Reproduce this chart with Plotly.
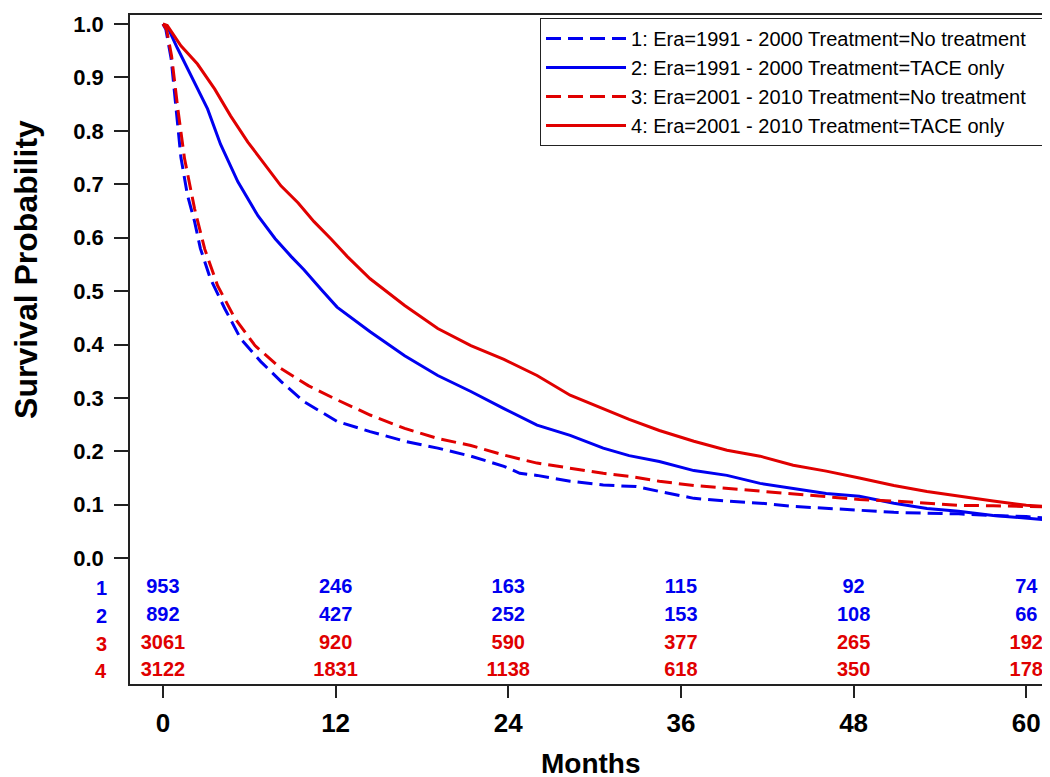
import plotly.graph_objects as go

# ---- data ----
names = [
    "1: Era=1991 - 2000 Treatment=No treatment",
    "2: Era=1991 - 2000 Treatment=TACE only",
    "3: Era=2001 - 2010 Treatment=No treatment",
    "4: Era=2001 - 2010 Treatment=TACE only",
]

t1 = [0, 0.2, 0.57, 0.9, 1.25, 1.7, 2.2, 2.6, 3.3, 4.3, 5.4, 6.8, 8.2, 9.8, 11.2, 12.1, 14.4, 16.8, 19.1, 21.4,
      23.7, 24.8, 26.0, 28.3, 30.6, 32.9, 34.5, 36.9, 39.2, 41.5, 43.8, 46.1, 48.4, 50.8, 53.1, 55.3, 57.7, 60.0, 61.8]
s1 = [1.0, 0.99, 0.935, 0.84, 0.75, 0.68, 0.63, 0.58, 0.523, 0.467, 0.411, 0.368, 0.331, 0.293, 0.271, 0.256, 0.237,
      0.219, 0.206, 0.191, 0.172, 0.159, 0.155, 0.144, 0.137, 0.134, 0.125, 0.112, 0.107, 0.103, 0.097, 0.093, 0.090,
      0.086, 0.084, 0.083, 0.080, 0.078, 0.074]

t2 = [0, 0.4, 1.0, 1.94, 3.1, 4.0, 5.2, 6.6, 7.8, 8.9, 9.8, 11.0, 12.1, 14.4, 16.8, 19.1, 21.4, 23.7, 26.0, 28.3,
      30.6, 32.4, 34.5, 36.9, 39.2, 41.5, 43.8, 46.1, 48.4, 50.8, 53.1, 55.3, 57.7, 60.0, 61.8]
s2 = [1.0, 0.99, 0.955, 0.903, 0.841, 0.775, 0.705, 0.641, 0.598, 0.565, 0.540, 0.503, 0.470, 0.424, 0.379, 0.342,
      0.312, 0.280, 0.249, 0.230, 0.206, 0.192, 0.181, 0.164, 0.155, 0.140, 0.131, 0.121, 0.116, 0.103, 0.093, 0.088,
      0.080, 0.075, 0.071]

t3 = [0, 0.25, 0.6, 1.04, 1.5, 2.2, 2.9, 3.8, 5.0, 6.4, 8.2, 10.1, 11.9, 14.4, 16.8, 19.1, 21.4, 23.7, 26.0, 28.3,
      30.6, 32.5, 34.5, 36.9, 39.2, 41.5, 43.8, 46.1, 48.4, 50.8, 53.1, 55.3, 57.7, 60.0, 61.8]
s3 = [1.0, 0.99, 0.94, 0.84, 0.748, 0.654, 0.579, 0.51, 0.449, 0.398, 0.355, 0.323, 0.299, 0.268, 0.243, 0.224,
      0.211, 0.193, 0.178, 0.168, 0.159, 0.153, 0.144, 0.136, 0.131, 0.125, 0.121, 0.116, 0.110, 0.107, 0.103, 0.099,
      0.098, 0.097, 0.096]

t4 = [0, 0.3, 1.25, 2.4, 3.6, 4.7, 5.9, 7.1, 8.2, 9.4, 10.5, 11.7, 12.8, 14.4, 16.8, 19.1, 21.4, 23.7, 26.0, 28.3,
      30.6, 32.4, 34.5, 36.9, 39.2, 41.5, 43.8, 46.1, 48.4, 50.8, 53.1, 55.3, 57.7, 60.0, 61.8]
s4 = [1.0, 0.997, 0.959, 0.925, 0.878, 0.828, 0.779, 0.735, 0.697, 0.665, 0.630, 0.597, 0.565, 0.523, 0.473, 0.430,
      0.398, 0.372, 0.342, 0.305, 0.280, 0.260, 0.239, 0.219, 0.202, 0.191, 0.174, 0.163, 0.150, 0.136, 0.125, 0.116,
      0.107, 0.099, 0.096]

risk_times = [0, 12, 24, 36, 48, 60]
risk1 = [953, 246, 163, 115, 92, 74]
risk2 = [892, 427, 252, 153, 108, 66]
risk3 = [3061, 920, 590, 377, 265, 192]
risk4 = [3122, 1831, 1138, 618, 350, 178]
risk_labels = ["1", "2", "3", "4"]
risk_rows_y = [-0.056, -0.108, -0.161, -0.211]

y_ticks = [0.0, 0.1, 0.2, 0.3, 0.4, 0.5, 0.6, 0.7, 0.8, 0.9, 1.0]
x_ticks = [0, 12, 24, 36, 48, 60]

BLUE = "#0000F0"
RED = "#E00000"
FONT = "Liberation Sans, Arial, sans-serif"
PAD = "\u00a0\u00a0\u00a0"

fig = go.Figure()
curves = [(t1, s1, BLUE, "15px,7px"), (t2, s2, BLUE, "solid"),
          (t3, s3, RED, "15px,7px"), (t4, s4, RED, "solid")]
for (t, s, c, d), n in zip(curves, names):
    fig.add_trace(go.Scatter(x=t, y=s, mode="lines", name=n + PAD,
                             line=dict(color=c, width=3, dash=d)))

risks = [risk1, risk2, risk3, risk4]
row_colors = [BLUE, BLUE, RED, RED]
for r, yv, c in zip(risks, risk_rows_y, row_colors):
    fig.add_trace(go.Scatter(x=risk_times, y=[yv] * len(risk_times), mode="text",
                             text=[str(v) for v in r], showlegend=False,
                             textfont=dict(family=FONT, size=20, color=c, weight="bold"),
                             textposition="middle center", cliponaxis=False,
                             hoverinfo="skip"))

annotations = []
for lab, yv, c in zip(risk_labels, risk_rows_y, row_colors):
    annotations.append(dict(text=lab, xref="paper", yref="y", x=(93 - 122) / 924, y=yv,
                            xanchor="center", yanchor="middle", showarrow=False,
                            font=dict(family=FONT, size=20, color=c, weight="bold")))
annotations.append(dict(text="Months", xref="paper", yref="paper", x=0.5, y=-(756 - 676) / 670,
                        xanchor="center", yanchor="middle", showarrow=False,
                        font=dict(family=FONT, size=28, color="black", weight="bold")))
annotations.append(dict(text="Survival Probability", xref="paper", yref="y", x=(17 - 122) / 924, y=0.54,
                        xanchor="center", yanchor="middle", showarrow=False, textangle=-90,
                        font=dict(family=FONT, size=32, color="black", weight="bold")))

fig.update_layout(
    width=1050, height=777,
    margin=dict(l=122, r=4, t=6, b=101),
    plot_bgcolor="white", paper_bgcolor="white",
    annotations=annotations,
    legend=dict(x=1 - 3 / 924, xanchor="right", y=1 - 3 / 670, yanchor="top",
                bgcolor="white", bordercolor="#222", borderwidth=1,
                font=dict(family=FONT, size=20, color="black"),
                itemwidth=80, tracegroupgap=0),
    font=dict(family=FONT, color="black"),
)
fig.update_xaxes(range=[-2.29, 61.79], tickvals=x_ticks, ticktext=[str(v) for v in x_ticks],
                 ticks="outside", ticklen=12, tickwidth=1.5, tickcolor="#222",
                 showline=True, mirror=True, linecolor="#222", linewidth=1.5,
                 showgrid=False, zeroline=False, ticklabelstandoff=3,
                 tickfont=dict(family=FONT, size=26, color="black", weight="bold"))
fig.update_yaxes(range=[-0.2355, 1.0168], tickvals=y_ticks,
                 ticktext=["%.1f\u00a0" % v for v in y_ticks],
                 ticks="outside", ticklen=14, tickwidth=1.5, tickcolor="#222",
                 showline=True, mirror=True, linecolor="#222", linewidth=1.5,
                 showgrid=False, zeroline=False,
                 tickfont=dict(family=FONT, size=22, color="black", weight="bold"))

fig.write_html("out.html")
